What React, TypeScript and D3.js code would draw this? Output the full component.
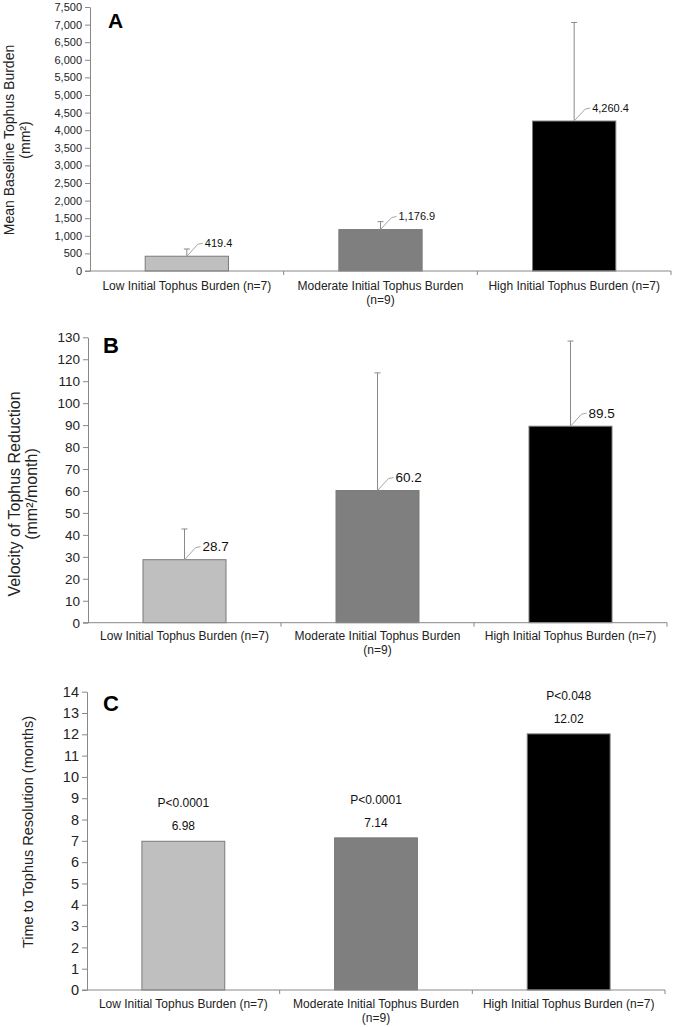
import * as d3 from "d3";
import React, { useEffect, useRef } from "react";

const categories = [
  "Low Initial Tophus Burden (n=7)",
  "Moderate Initial Tophus Burden (n=9)",
  "High Initial Tophus Burden (n=7)",
];
const categoryLines = [
  ["Low Initial Tophus Burden (n=7)"],
  ["Moderate Initial Tophus Burden", "(n=9)"],
  ["High Initial Tophus Burden (n=7)"],
];
const barColors = ["#bfbfbf", "#7f7f7f", "#000000"];

const baselineMeans = [419.4, 1176.9, 4260.4];
const baselineErr = [206, 225, 2800];
const baselineTicks = d3.range(0, 7501, 500);

const velocityMeans = [28.7, 60.2, 89.5];
const velocityErr = [14, 53.6, 38.8];
const velocityTicks = d3.range(0, 131, 10);

const resolutionMeans = [6.98, 7.14, 12.02];
const resolutionP = ["P<0.0001", "P<0.0001", "P<0.048"];
const resolutionTicks = d3.range(0, 15, 1);

const FONT = "'Liberation Sans', Arial, sans-serif";

export default function App() {
  const ref = useRef<SVGSVGElement>(null);

  useEffect(() => {
    const svg = d3.select(ref.current);
    svg.selectAll("*").remove();

    const panels = [
      {
        letter: "A", letterX: 108, letterY: 28, letterSize: 21,
        x0: 90, x1: 671, y0: 271, yTop: 7, max: 7500, ticks: baselineTicks,
        tickFmt: d3.format(","), tickSize: 11,
        title: ["Mean Baseline Tophus Burden", "(mm²)"], titleX: 9, titleGap: 16, titleY: 140, titleSize: 14,
        means: baselineMeans, err: baselineErr, valFmt: d3.format(",.1f"), valSize: 11,
        labelY: 286,
      },
      {
        letter: "B", letterX: 103, letterY: 353, letterSize: 22,
        x0: 88, x1: 667, y0: 622.7, yTop: 337.3, max: 130, ticks: velocityTicks,
        tickFmt: d3.format("d"), tickSize: 13.5,
        title: ["Velocity of Tophus Reduction", "(mm²/month)"], titleX: 14, titleGap: 17, titleY: 494, titleSize: 16,
        means: velocityMeans, err: velocityErr, valFmt: d3.format(".1f"), valSize: 13.5,
        labelY: 636,
      },
      {
        letter: "C", letterX: 103, letterY: 711, letterSize: 22,
        x0: 87, x1: 665, y0: 990, yTop: 691.7, max: 14, ticks: resolutionTicks,
        tickFmt: d3.format("d"), tickSize: 14.5,
        title: ["Time to Tophus Resolution (months)"], titleX: 28, titleGap: 0, titleY: 832, titleSize: 14.5,
        means: resolutionMeans, err: null, valFmt: d3.format(".2f"), valSize: 12,
        labelY: 1004,
      },
    ];

    panels.forEach((p) => {
      const g = svg.append("g");
      const x = d3.scaleBand<string>()
        .domain(categories)
        .range([p.x0, p.x1])
        .paddingInner(0.57)
        .paddingOuter(0.285);
      const y = d3.scaleLinear().domain([0, p.max]).range([p.y0, p.yTop]);
      const step = (p.x1 - p.x0) / categories.length;

      // bars
      g.selectAll("rect.bar")
        .data(p.means)
        .join("rect")
        .attr("x", (_, i) => x(categories[i])!)
        .attr("y", (d) => y(d))
        .attr("width", x.bandwidth())
        .attr("height", (d) => p.y0 - y(d))
        .attr("fill", (_, i) => barColors[i])
        .attr("stroke", "#7a7a7a")
        .attr("stroke-width", 1);

      // error bars (upper only)
      if (p.err) {
        p.means.forEach((m, i) => {
          const cx = x(categories[i])! + x.bandwidth() / 2;
          const top = y(m + p.err![i]);
          g.append("line").attr("x1", cx).attr("x2", cx).attr("y1", y(m)).attr("y2", top)
            .attr("stroke", "#8a8a8a").attr("stroke-width", 1);
          g.append("line").attr("x1", cx - 3).attr("x2", cx + 3).attr("y1", top).attr("y2", top)
            .attr("stroke", "#8a8a8a").attr("stroke-width", 1);
        });
        // value labels with leader lines
        p.means.forEach((m, i) => {
          const cx = x(categories[i])! + x.bandwidth() / 2;
          const ty = y(m);
          g.append("path")
            .attr("d", `M${cx},${ty} L${cx + 11},${ty - 12} L${cx + 16},${ty - 13}`)
            .attr("fill", "none").attr("stroke", "#a6a6a6").attr("stroke-width", 1);
          g.append("text")
            .attr("x", cx + 18).attr("y", ty - 13)
            .attr("dy", "0.35em")
            .style("font-family", FONT).style("font-size", `${p.valSize}px`)
            .attr("fill", "#111")
            .text(p.valFmt(m));
        });
      } else {
        p.means.forEach((m, i) => {
          const cx = x(categories[i])! + x.bandwidth() / 2;
          const ty = y(m);
          g.append("text")
            .attr("x", cx).attr("y", ty - 15).attr("dy", "0.35em")
            .attr("text-anchor", "middle")
            .style("font-family", FONT).style("font-size", `${p.valSize}px`)
            .attr("fill", "#111")
            .text(p.valFmt(m));
          g.append("text")
            .attr("x", cx).attr("y", ty - 38).attr("dy", "0.35em")
            .attr("text-anchor", "middle")
            .style("font-family", FONT).style("font-size", `${p.valSize}px`)
            .attr("fill", "#111")
            .text(resolutionP[i]);
        });
      }

      // y axis
      const yAxis = g.append("g")
        .attr("transform", `translate(${p.x0},0)`)
        .call(d3.axisLeft(y).tickValues(p.ticks).tickFormat(p.tickFmt as any).tickSize(5).tickSizeOuter(0).tickPadding(3));
      yAxis.select(".domain").attr("stroke", "#888");
      yAxis.selectAll(".tick line").attr("stroke", "#888");
      yAxis.selectAll(".tick text")
        .style("font-family", FONT).style("font-size", `${p.tickSize}px`).attr("fill", "#222");

      // x axis
      g.append("line")
        .attr("x1", p.x0 - 5).attr("x2", p.x1).attr("y1", p.y0).attr("y2", p.y0)
        .attr("stroke", "#888");
      d3.range(1, categories.length + 1).forEach((k) => {
        const bx = p.x0 + k * step;
        g.append("line").attr("x1", bx).attr("x2", bx).attr("y1", p.y0).attr("y2", p.y0 + 4)
          .attr("stroke", "#888");
      });
      categoryLines.forEach((lines, i) => {
        const cx = p.x0 + (i + 0.5) * step;
        lines.forEach((ln, j) => {
          g.append("text")
            .attr("x", cx).attr("y", p.labelY + j * 14).attr("dy", "0.35em")
            .attr("text-anchor", "middle")
            .style("font-family", FONT).style("font-size", "12px")
            .attr("fill", "#222")
            .text(ln);
        });
      });

      // y title
      p.title.forEach((t, j) => {
        g.append("text")
          .attr("transform", `translate(${p.titleX + j * p.titleGap},${p.titleY}) rotate(-90)`)
          .attr("text-anchor", "middle").attr("dy", "0.35em")
          .style("font-family", FONT).style("font-size", `${p.titleSize}px`)
          .attr("fill", "#222")
          .text(t);
      });

      // panel letter
      g.append("text")
        .attr("x", p.letterX).attr("y", p.letterY)
        .style("font-family", FONT).style("font-size", `${p.letterSize}px`)
        .style("font-weight", "bold")
        .text(p.letter);
    });
  }, []);

  return (
    <svg
      ref={ref}
      width={685}
      height={1027}
      style={{ position: "absolute", left: 0, top: 0, background: "#fff" }}
    />
  );
}
